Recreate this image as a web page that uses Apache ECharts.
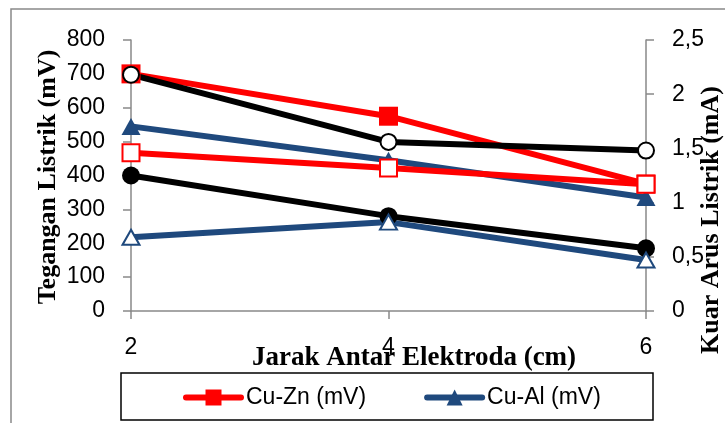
<!DOCTYPE html>
<html>
<head>
<meta charset="utf-8">
<script src="https://cdn.jsdelivr.net/npm/echarts@6/dist/echarts.min.js"></script>
<style>html,body{margin:0;padding:0;background:#fff;}#c{width:725px;height:423px;}</style>
</head>
<body>
<div id="c"></div>
<script>
var categories = ['2', '4', '6'];
var cuZnMV = [700, 575, 375];
var cuAlMV = [545, 445, 335];
var seri3MV = [400, 280, 185];
var cuZnMA = [1.46, 1.32, 1.17];
var cuAlMA = [0.68, 0.82, 0.47];
var seri3MA = [2.18, 1.56, 1.48];

var RED = '#FF0000', BLUE = '#1F497D', BLACK = '#000000', AXIS = '#898989';
var labelFont = 'Liberation Sans';

var chart = echarts.init(document.getElementById('c'));
function line(name, data, yIdx, color, symbol, size, hollow) {
  return {
    name: name, type: 'line', data: data, yAxisIndex: yIdx,
    symbol: symbol, symbolSize: size, showAllSymbol: true,
    lineStyle: { color: color, width: 6, cap: 'round' },
    itemStyle: hollow ? { color: '#fff', borderColor: color, borderWidth: 2 } : { color: color, borderWidth: 0 },
    emphasis: { disabled: true },
    animation: false
  };
}
chart.setOption({
  animation: false,
  grid: { left: 131, right: 79, top: 40, bottom: 112, containLabel: false },
  legend: {
    data: ['Cu-Zn (mV)', 'Cu-Al (mV)'],
    left: 183, top: 386, padding: 0, itemWidth: 55, itemHeight: 20, itemGap: 58,
    lineStyle: { width: 6, cap: 'round' },
    textStyle: { fontFamily: labelFont, fontSize: 23, color: '#000' }
  },
  xAxis: {
    type: 'category', data: categories, boundaryGap: false,
    axisLine: { lineStyle: { color: AXIS, width: 1.5 } },
    axisTick: { show: true, length: 8, lineStyle: { color: AXIS, width: 1.5 } },
    axisLabel: { fontFamily: labelFont, fontSize: 23, color: '#000', margin: 25 },
    splitLine: { show: false }
  },
  yAxis: [{
    type: 'value', min: 0, max: 800, interval: 100,
    axisLine: { show: true, lineStyle: { color: AXIS, width: 1.5 } },
    axisTick: { show: true, length: 8, lineStyle: { color: AXIS, width: 1.5 } },
    axisLabel: { fontFamily: labelFont, fontSize: 23, color: '#000', margin: 26 },
    splitLine: { show: false }
  }, {
    type: 'value', min: 0, max: 2.5, interval: 0.5, position: 'right',
    axisLine: { show: true, lineStyle: { color: AXIS, width: 1.5 } },
    axisTick: { show: true, length: 8, lineStyle: { color: AXIS, width: 1.5 } },
    axisLabel: { fontFamily: labelFont, fontSize: 23, color: '#000', margin: 26,
      formatter: function (v) { return String(v).replace('.', ','); } },
    splitLine: { show: false }
  }],
  series: [
    line('Cu-Zn (mV)', cuZnMV, 0, RED, 'rect', 19, false),
    line('Cu-Al (mV)', cuAlMV, 0, BLUE, 'triangle', [19, 17], false),
    line('Seri 3 (mV)', seri3MV, 0, BLACK, 'circle', 18, false),
    line('Cu-Zn (mA)', cuZnMA, 1, RED, 'rect', 17, true),
    line('Cu-Al (mA)', cuAlMA, 1, BLUE, 'triangle', [17, 15], true),
    line('Seri 3 (mA)', seri3MA, 1, BLACK, 'circle', 16, true)
  ],
  graphic: [
    { type: 'rect', silent: true, z: -1, shape: { x: 11, y: 9, width: 900, height: 600 },
      style: { fill: 'none', stroke: AXIS, lineWidth: 1.5 } },
    { type: 'rect', silent: true, shape: { x: 121, y: 373, width: 532, height: 47 },
      style: { fill: 'none', stroke: '#000', lineWidth: 1.5 } },
    { type: 'text', silent: true, x: 414, y: 358,
      style: { text: 'Jarak Antar Elektroda (cm)', font: 'bold 27px "Liberation Serif"', fill: '#000', align: 'center', verticalAlign: 'middle' } },
    { type: 'text', silent: true, x: 48, y: 177, rotation: Math.PI / 2,
      style: { text: 'Tegangan Listrik (mV)', font: 'bold 26px "Liberation Serif"', fill: '#000', align: 'center', verticalAlign: 'middle' } },
    { type: 'text', silent: true, x: 711, y: 220, rotation: Math.PI / 2,
      style: { text: 'Kuar Arus Listrik (mA)', font: 'bold 26px "Liberation Serif"', fill: '#000', align: 'center', verticalAlign: 'middle' } }
  ]
});
</script>
</body>
</html>
